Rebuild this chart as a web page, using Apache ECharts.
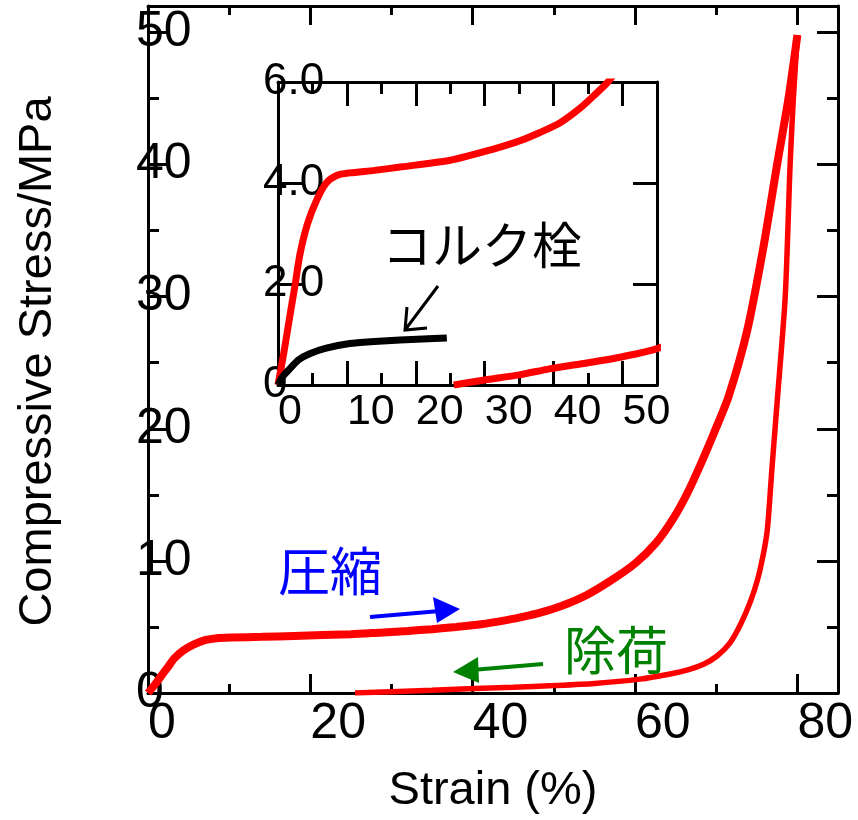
<!DOCTYPE html>
<html>
<head>
<meta charset="utf-8">
<script src="https://cdn.jsdelivr.net/npm/echarts@6/dist/echarts.min.js"></script>
<style>
html, body { margin: 0; padding: 0; background: #fff; }
#main { width: 858px; height: 820px; }
</style>
</head>
<body>
<div id="main"></div>
<script>
// 圧縮 / 除荷 curves: [strain %, stress MPa]
var compress = [[0,0],[0.8,0.6],[1.7,1.35],[2.5,2.0],[3.2,2.6],[4.3,3.2],[5.6,3.66],[7,4.0],[8.5,4.15],
    [10.4,4.2],[14,4.25],[18,4.32],[25,4.45],[28,4.55],[32,4.7],[35,4.83],[38,5.0],[41,5.2],
    [44,5.5],[46,5.75],[48,6.02],[51,6.6],[54,7.4],[57,8.5],[60,9.8],[62.5,11.3],[64.7,13.2],
    [66.5,15.2],[68,17.2],[69.8,19.8],[71.5,22.4],[73.8,27.4],[75.8,33.7],[77.5,40],[78.9,45],[80,49.8]];
var unload = [[25.5,0],[30,0.1],[35,0.2],[39.4,0.32],[45,0.44],[50,0.56],[55,0.72],[60.6,1.05],
    [64,1.4],[66.5,1.75],[68.5,2.2],[70.1,2.8],[71.7,3.8],[73,5.2],[74.2,6.9],[75.1,8.6],[75.8,10.5],
    [76.3,12.4],[76.9,17.3],[77.5,22],[78.5,30],[79.1,40],[79.5,45],[80,49.8]];
// コルク栓
var cork = [[0,0],[0.7,0.17],[1.7,0.32],[3,0.5],[4.6,0.62],[7,0.73],[10.4,0.82],[14,0.86],
    [17.7,0.89],[21,0.91],[24.5,0.93]];

var mainXLabels = [0, 20, 40, 60, 80];
var mainYLabels = [0, 10, 20, 30, 40, 50];
var insetXLabels = [0, 10, 20, 30, 40, 50];
var insetYLabels = { 0: '0', 2: '2.0', 4: '4.0', 6: '6.0' };

var latin = '"Liberation Sans", Arial, sans-serif';
var cjk = '"Noto Sans CJK JP", sans-serif';

var chart = echarts.init(document.getElementById('main'));

// tick-only axis (frame side)
function tickAx(grid, pos, min, max, step, len, line) {
    return {
        type: 'value', gridIndex: grid, position: pos, min: min, max: max, interval: step,
        splitLine: { show: false },
        axisLine: { show: line, onZero: false, lineStyle: { color: '#000', width: 3 } },
        axisTick: { show: true, inside: true, length: len, lineStyle: { color: '#000', width: 3 } },
        axisLabel: { show: false }
    };
}
// label-only axis
function labelAx(grid, pos, min, max, step, label, extra) {
    var a = {
        type: 'value', gridIndex: grid, position: pos, min: min, max: max, interval: step,
        splitLine: { show: false },
        axisLine: { show: false, onZero: false },
        axisTick: { show: false },
        axisLabel: label
    };
    for (var k in extra) a[k] = extra[k];
    return a;
}

var option = {
    animation: false,
    backgroundColor: '#fff',
    grid: [
        { left: 148, top: 6, width: 690, height: 691 },
        { left: 278, top: 82, width: 379, height: 303 }
    ],
    xAxis: [
        labelAx(0, 'bottom', 0, 85, 20,
            { show: true, align: 'left', margin: 6, fontFamily: latin, fontSize: 50, color: '#000', showMaxLabel: false,
              formatter: function (v) { return mainXLabels.indexOf(v) >= 0 ? String(v) : ''; } },
            { name: 'Strain (%)', nameLocation: 'middle', nameGap: 75,
              nameTextStyle: { fontFamily: latin, fontSize: 47, color: '#000' } }),
        tickAx(0, 'bottom', 0, 85, 20, 19, true),
        tickAx(0, 'bottom', 0, 85, 10, 9, false),
        tickAx(0, 'top', 0, 85, 20, 19, true),
        tickAx(0, 'top', 0, 85, 10, 9, false),
        labelAx(1, 'bottom', 0, 55, 10,
            { show: true, align: 'left', margin: 6, fontFamily: latin, fontSize: 43, color: '#000', showMaxLabel: false,
              formatter: function (v) { return insetXLabels.indexOf(v) >= 0 ? String(v) : ''; } }, {}),
        tickAx(1, 'bottom', 0, 55, 10, 24, true),
        tickAx(1, 'bottom', 0, 55, 5, 12, false),
        tickAx(1, 'top', 0, 55, 10, 24, true),
        tickAx(1, 'top', 0, 55, 5, 12, false)
    ],
    yAxis: [
        labelAx(0, 'left', 0, 52, 10,
            { show: true, inside: true, margin: -12, fontFamily: latin, fontSize: 50, color: '#000', showMaxLabel: false,
              formatter: function (v) { return mainYLabels.indexOf(v) >= 0 ? String(v) : ''; } },
            { name: 'Compressive Stress/MPa', nameLocation: 'middle', nameGap: 86,
              nameTextStyle: { fontFamily: latin, fontSize: 47, color: '#000', padding: [0, 24, 0, 0] } }),
        tickAx(0, 'left', 0, 52, 10, 20, true),
        tickAx(0, 'left', 0, 52, 5, 11, false),
        tickAx(0, 'right', 0, 52, 10, 21, true),
        tickAx(0, 'right', 0, 52, 5, 11, false),
        labelAx(1, 'left', 0, 6, 2,
            { show: true, inside: true, margin: -15, fontFamily: latin, fontSize: 44, color: '#000',
              formatter: function (v) { return insetYLabels[v] !== undefined ? insetYLabels[v] : ''; } }, {}),
        tickAx(1, 'left', 0, 6, 2, 24, true),
        tickAx(1, 'right', 0, 6, 2, 24, true)
    ],
    series: [
        { name: '圧縮', type: 'line', xAxisIndex: 0, yAxisIndex: 0, data: compress, showSymbol: false,
          smooth: 0.25, lineStyle: { color: '#ff0000', width: 8 } },
        { name: '除荷', type: 'line', xAxisIndex: 0, yAxisIndex: 0, data: unload, showSymbol: false,
          smooth: 0.25, lineStyle: { color: '#ff0000', width: 5.5 } },
        { name: '圧縮(inset)', type: 'line', xAxisIndex: 5, yAxisIndex: 5, data: compress, showSymbol: false,
          smooth: 0.25, lineStyle: { color: '#ff0000', width: 7 } },
        { name: '除荷(inset)', type: 'line', xAxisIndex: 5, yAxisIndex: 5, data: unload, showSymbol: false,
          smooth: 0.25, lineStyle: { color: '#ff0000', width: 7 } },
        { name: 'コルク栓', type: 'line', xAxisIndex: 5, yAxisIndex: 5, data: cork, showSymbol: false,
          smooth: 0.25, lineStyle: { color: '#000', width: 7 } }
    ],
    graphic: [
        { type: 'text', z: 100, x: 330, y: 571, style: { text: '圧縮', font: '52px ' + cjk, fill: '#0000ff',
            align: 'center', verticalAlign: 'middle' } },
        { type: 'line', z: 100, shape: { x1: 370, y1: 617, x2: 440, y2: 611 },
          style: { stroke: '#0000ff', lineWidth: 4 } },
        { type: 'polygon', z: 100, shape: { points: [[460, 609], [433, 597], [437, 623]] },
          style: { fill: '#0000ff' } },
        { type: 'text', z: 100, x: 616, y: 650, style: { text: '除荷', font: '52px ' + cjk, fill: '#008000',
            align: 'center', verticalAlign: 'middle' } },
        { type: 'line', z: 100, shape: { x1: 543, y1: 664, x2: 472, y2: 670 },
          style: { stroke: '#008000', lineWidth: 4 } },
        { type: 'polygon', z: 100, shape: { points: [[453, 672], [478, 657], [479, 683]] },
          style: { fill: '#008000' } },
        { type: 'text', z: 100, x: 482, y: 245, style: { text: 'コルク栓', font: '50px ' + cjk, fill: '#000',
            align: 'center', verticalAlign: 'middle' } },
        { type: 'polyline', z: 100, shape: { points: [[438, 286], [405, 330]] },
          style: { stroke: '#000', lineWidth: 3, fill: null } },
        { type: 'polyline', z: 100, shape: { points: [[407, 307], [405, 330], [427, 328]] },
          style: { stroke: '#000', lineWidth: 3, fill: null } }
    ]
};

chart.setOption(option);
</script>
</body>
</html>
